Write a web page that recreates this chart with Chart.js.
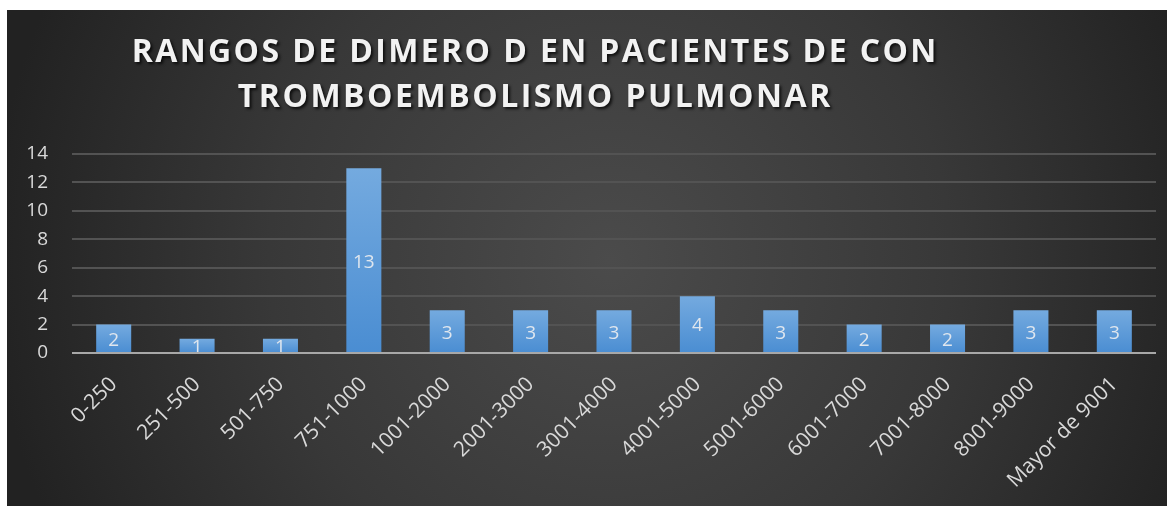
<!DOCTYPE html>
<html>
<head>
<meta charset="utf-8">
<script src="https://cdn.jsdelivr.net/npm/chart.js@4/dist/chart.umd.min.js"></script>
<style>
  html, body { margin: 0; padding: 0; background: #ffffff; }
  #wrap { width: 1172px; height: 506px; position: relative; }
</style>
</head>
<body>
<div id="wrap"><canvas id="c" width="1172" height="506"></canvas></div>
<script>
const titleLines = ["RANGOS DE DIMERO D EN PACIENTES DE CON", "TROMBOEMBOLISMO PULMONAR"];
const categories = ["0-250", "251-500", "501-750", "751-1000", "1001-2000", "2001-3000", "3001-4000", "4001-5000", "5001-6000", "6001-7000", "7001-8000", "8001-9000", "Mayor de 9001"];
const pacientes = [2, 1, 1, 13, 3, 3, 3, 4, 3, 2, 2, 3, 3];
const yTicks = [0, 2, 4, 6, 8, 10, 12, 14];

const FONT = "'Open Sans', 'DejaVu Sans', sans-serif";

const bgPlugin = {
  id: 'bg',
  beforeDraw(chart) {
    const ctx = chart.ctx;
    ctx.save();
    ctx.fillStyle = '#ffffff';
    ctx.fillRect(0, 0, chart.width, chart.height);
    const x0 = 7, y0 = 10, x1 = 1167, y1 = 506;
    const g = ctx.createRadialGradient(610, 260, 0, 610, 260, 620);
    g.addColorStop(0, '#4b4b4b');
    g.addColorStop(0.55, '#383838');
    g.addColorStop(1, '#222222');
    ctx.fillStyle = g;
    ctx.fillRect(x0, y0, x1 - x0, y1 - y0);
    ctx.restore();
  }
};

const titlePlugin = {
  id: 'customTitle',
  afterDraw(chart) {
    const ctx = chart.ctx;
    ctx.save();
    ctx.font = "bold 32px " + FONT;
    ctx.fillStyle = '#f2f2f2';
    ctx.textAlign = 'center';
    ctx.textBaseline = 'alphabetic';
    ctx.shadowColor = 'rgba(0,0,0,0.75)';
    ctx.shadowOffsetX = 2;
    ctx.shadowOffsetY = 2;
    ctx.shadowBlur = 3;
    const targets = [807, 595];
    const baselines = [62, 107];
    titleLines.forEach((t, i) => {
      ctx.letterSpacing = '0px';
      const w = ctx.measureText(t).width;
      const sp = Math.max(0, (targets[i] - w) / t.length);
      ctx.letterSpacing = sp.toFixed(2) + 'px';
      ctx.fillText(t, 534 + sp / 2, baselines[i]);
    });
    ctx.restore();
  }
};

const labelPlugin = {
  id: 'valueLabels',
  afterDatasetsDraw(chart) {
    const ctx = chart.ctx;
    const meta = chart.getDatasetMeta(0);
    ctx.save();
    ctx.font = "19px " + FONT;
    ctx.fillStyle = '#dfe6ee';
    ctx.textAlign = 'center';
    ctx.textBaseline = 'middle';
    meta.data.forEach((bar, i) => {
      const v = chart.data.datasets[0].data[i];
      const yMid = (bar.y + bar.base) / 2;
      ctx.fillText(String(v), bar.x, yMid + 2);
    });
    ctx.restore();
  }
};

const axisLinePlugin = {
  id: 'axisLine',
  afterDatasetsDraw(chart) {
    const ctx = chart.ctx;
    const a = chart.chartArea;
    const y = chart.scales.y.getPixelForValue(0);
    ctx.save();
    ctx.strokeStyle = '#a8a8a8';
    ctx.lineWidth = 2;
    ctx.beginPath();
    ctx.moveTo(a.left, y);
    ctx.lineTo(a.right, y);
    ctx.stroke();
    ctx.restore();
  }
};

function barGradient(context) {
  const chart = context.chart;
  const ys = chart.scales && chart.scales.y;
  if (!ys || context.type !== 'data') return '#5b9bd5';
  const v = context.raw;
  const top = ys.getPixelForValue(v);
  const base = ys.getPixelForValue(0);
  if (!isFinite(top) || !isFinite(base) || top === base) return '#5b9bd5';
  const g = chart.ctx.createLinearGradient(0, top, 0, base);
  g.addColorStop(0, '#74aadf');
  g.addColorStop(1, '#4a8dd2');
  return g;
}

new Chart(document.getElementById('c'), {
  type: 'bar',
  data: {
    labels: categories,
    datasets: [{
      label: 'Pacientes',
      data: pacientes,
      backgroundColor: barGradient,
      borderWidth: 0,
      categoryPercentage: 1.0,
      barPercentage: 0.42
    }]
  },
  options: {
    responsive: false,
    animation: false,
    devicePixelRatio: 1,
    layout: { padding: { left: 7, right: 16, top: 154, bottom: 0 } },
    plugins: {
      legend: { display: false },
      title: { display: false },
      tooltip: { enabled: false }
    },
    scales: {
      x: {
        grid: { display: false, drawTicks: false },
        border: { display: false },
        ticks: {
          color: '#d9d9d9',
          font: { family: FONT, size: 21 },
          maxRotation: 45,
          minRotation: 45,
          autoSkip: false,
          padding: 19
        },
        afterFit(scale) { scale.height = 153; }
      },
      y: {
        min: 0,
        max: 14,
        afterBuildTicks(scale) { scale.ticks = yTicks.map(v => ({ value: v })); },
        grid: {
          color: '#535353',
          lineWidth: 2,
          drawTicks: false
        },
        border: { display: false },
        ticks: {
          color: '#d9d9d9',
          font: { family: FONT, size: 19 },
          padding: 24
        },
        afterFit(scale) { scale.width = 65; }
      }
    }
  },
  plugins: [bgPlugin, titlePlugin, labelPlugin, axisLinePlugin]
});
</script>
</body>
</html>
